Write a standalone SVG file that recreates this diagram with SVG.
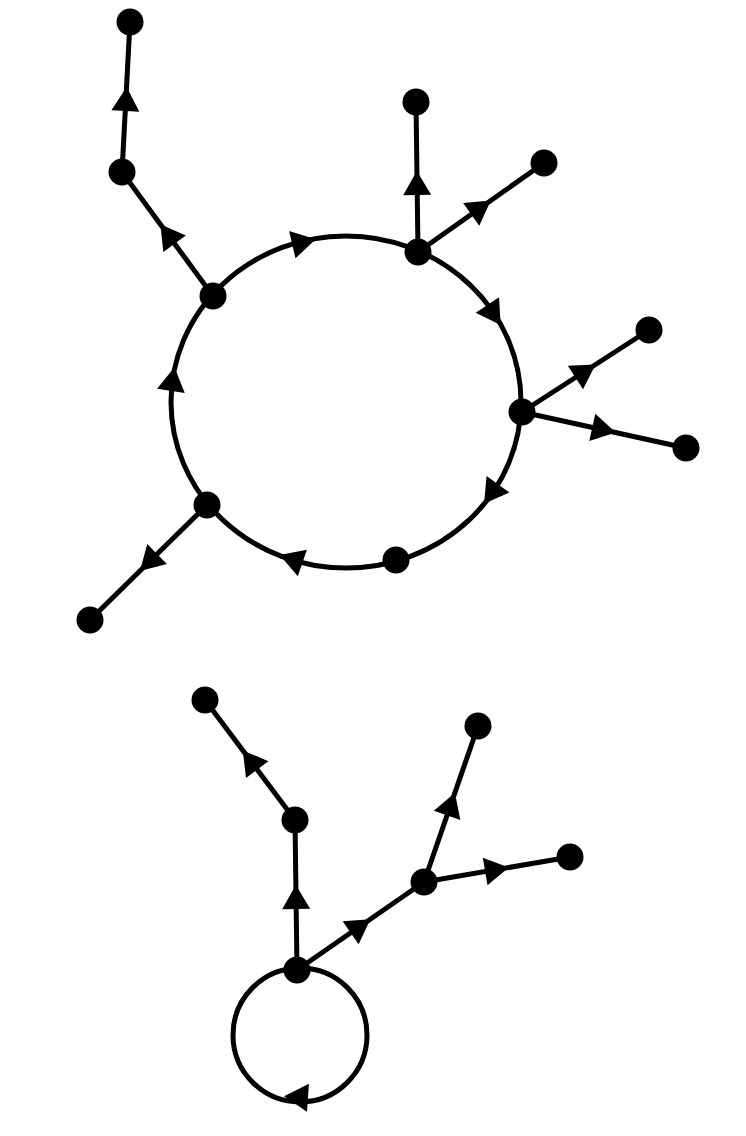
<svg xmlns="http://www.w3.org/2000/svg" width="746" height="1136" viewBox="0 0 746 1136">
<style>
.e{fill:none;stroke:#000;stroke-width:5}
.n{fill:#000}
</style>
<defs>
<path id="ah" d="M12,0 L-12,-14 L-12,14 Z" fill="#000"/>
</defs>
<rect width="746" height="1136" fill="#fff"/>
<g id="connectors">
<ellipse class="e" cx="346" cy="402" rx="175" ry="166"/>
<line class="e" x1="213" y1="296" x2="122" y2="172"/>
<line class="e" x1="122" y1="172" x2="130" y2="22"/>
<line class="e" x1="418" y1="252" x2="416" y2="102"/>
<line class="e" x1="418" y1="252" x2="544" y2="163"/>
<line class="e" x1="522" y1="412" x2="649" y2="330"/>
<line class="e" x1="522" y1="412" x2="686" y2="448"/>
<line class="e" x1="207" y1="505" x2="90" y2="620"/>
<circle class="e" cx="300" cy="1035" r="67"/>
<line class="e" x1="297" y1="970" x2="295" y2="820"/>
<line class="e" x1="295" y1="820" x2="205" y2="700"/>
<line class="e" x1="297" y1="970" x2="424" y2="882"/>
<line class="e" x1="424" y1="882" x2="478" y2="726"/>
<line class="e" x1="424" y1="882" x2="570" y2="857"/>
<use href="#ah" transform="translate(304,242) rotate(-13.2)"/>
<use href="#ah" transform="translate(494,315) rotate(56.5)"/>
<use href="#ah" transform="translate(491,494) rotate(125.6)"/>
<use href="#ah" transform="translate(291,559) rotate(198.9)"/>
<use href="#ah" transform="translate(172.7,379) rotate(-81.5)"/>
<use href="#ah" transform="translate(167.5,234) rotate(-126.3)"/>
<use href="#ah" transform="translate(126,99) rotate(-86.9)"/>
<use href="#ah" transform="translate(417,183) rotate(-90.8)"/>
<use href="#ah" transform="translate(481,207.5) rotate(-35.2)"/>
<use href="#ah" transform="translate(585.5,371) rotate(-32.9)"/>
<use href="#ah" transform="translate(604,430) rotate(12.4)"/>
<use href="#ah" transform="translate(148.5,562.5) rotate(135.5)"/>
<use href="#ah" transform="translate(296,897) rotate(-90.8)"/>
<use href="#ah" transform="translate(250,760) rotate(-126.9)"/>
<use href="#ah" transform="translate(360.5,926) rotate(-34.7)"/>
<use href="#ah" transform="translate(451,804) rotate(-70.9)"/>
<use href="#ah" transform="translate(497,869.5) rotate(-9.7)"/>
<use href="#ah" transform="translate(296,1097) rotate(184)"/>
</g>
<g id="nA"><circle class="n" cx="130" cy="22" r="13.5"/></g>
<g id="nB"><circle class="n" cx="122" cy="172" r="13.5"/></g>
<g id="nC"><circle class="n" cx="213" cy="296" r="13.5"/></g>
<g id="nD"><circle class="n" cx="418" cy="252" r="13.5"/></g>
<g id="nE"><circle class="n" cx="416" cy="102" r="13.5"/></g>
<g id="nF"><circle class="n" cx="544" cy="163" r="13.5"/></g>
<g id="nG"><circle class="n" cx="522" cy="412" r="13.5"/></g>
<g id="nH"><circle class="n" cx="649" cy="330" r="13.5"/></g>
<g id="nI"><circle class="n" cx="686" cy="448" r="13.5"/></g>
<g id="nJ"><circle class="n" cx="396" cy="560" r="13.5"/></g>
<g id="nK"><circle class="n" cx="207" cy="505" r="13.5"/></g>
<g id="nL"><circle class="n" cx="90" cy="620" r="13.5"/></g>
<g id="nM"><circle class="n" cx="297" cy="970" r="13.5"/></g>
<g id="nN"><circle class="n" cx="295" cy="820" r="13.5"/></g>
<g id="nO"><circle class="n" cx="205" cy="700" r="13.5"/></g>
<g id="nP"><circle class="n" cx="424" cy="882" r="13.5"/></g>
<g id="nQ"><circle class="n" cx="478" cy="726" r="13.5"/></g>
<g id="nR"><circle class="n" cx="570" cy="857" r="13.5"/></g>
</svg>
